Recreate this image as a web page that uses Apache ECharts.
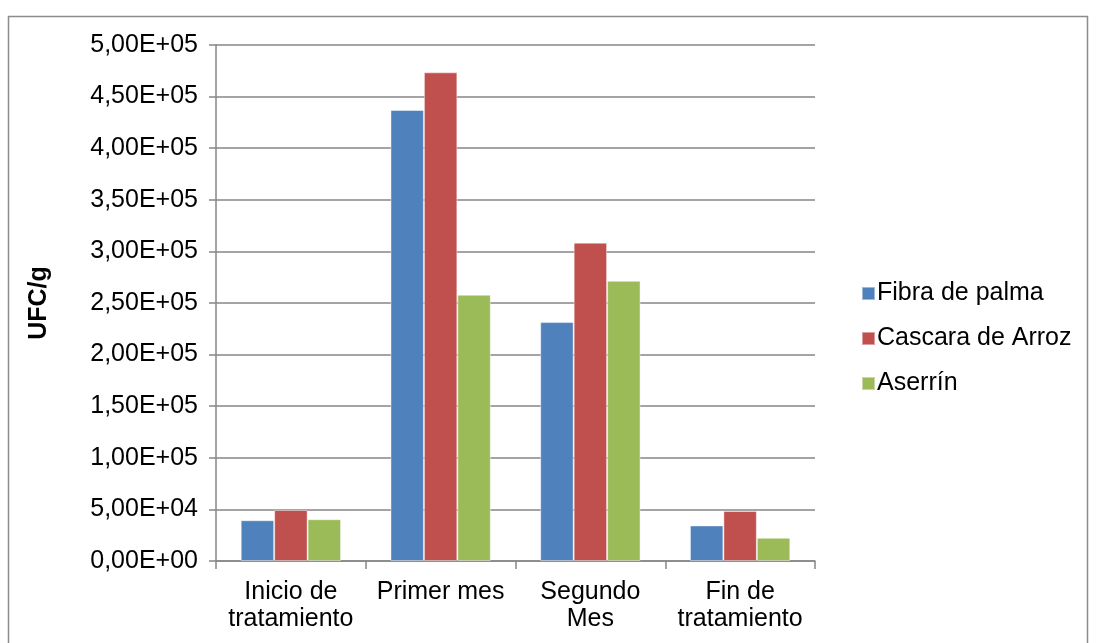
<!DOCTYPE html>
<html>
<head>
<meta charset="utf-8">
<script src="https://cdn.jsdelivr.net/npm/echarts@6/dist/echarts.min.js"></script>
<style>
  html, body { margin: 0; padding: 0; background: #fff; }
  #chart { width: 1097px; height: 643px; }
</style>
</head>
<body>
<div id="chart"></div>
<script>
// datos
const categories = ['Inicio de\ntratamiento', 'Primer mes', 'Segundo\nMes', 'Fin de\ntratamiento']
const fibraPalma = [39500, 437000, 231500, 34500]
const cascaraArroz = [49500, 473500, 308500, 48500]
const aserrin = [40500, 258000, 271500, 22500]

const font = 'Liberation Sans, Arial, sans-serif'
const gridColor = '#868686'

// 5,00E+05 style labels
function sciLabel(v) {
  let s = Number(v).toExponential(2) // 5.00e+5
  let parts = s.split('e')
  let mant = parts[0].replace('.', ',')
  let exp = parseInt(parts[1])
  let sign = exp < 0 ? '-' : '+'
  let e = Math.abs(exp).toString().padStart(2, '0')
  return mant + 'E' + sign + e
}

const chart = echarts.init(document.getElementById('chart'))
const option = {
  animation: false,
  backgroundColor: '#fff',
  textStyle: { fontFamily: font },
  graphic: [
    {
      type: 'rect',
      shape: { x: 8.5, y: 16.5, width: 1079, height: 700 },
      style: { fill: 'none', stroke: '#8c8c8c', lineWidth: 1.5 },
      silent: true
    }
  ],
  grid: { left: 216, right: 282, top: 45, bottom: 82 },
  legend: {
    orient: 'vertical',
    left: 856,
    top: 275,
    itemWidth: 13,
    itemHeight: 13,
    itemGap: 18,
    icon: 'rect',
    textStyle: { fontFamily: font, fontSize: 25, color: '#000', padding: [0, 0, 0, -3], lineHeight: 27 },
    data: ['Fibra de palma', 'Cascara de Arroz', 'Aserrín']
  },
  xAxis: {
    type: 'category',
    data: categories,
    axisLine: { lineStyle: { color: gridColor, width: 1.5 } },
    axisTick: { show: true, length: 8, lineStyle: { color: gridColor, width: 1.5 } },
    axisLabel: { color: '#000', fontSize: 25, fontFamily: font, margin: 18, lineHeight: 27, interval: 0 }
  },
  yAxis: {
    type: 'value',
    min: 0,
    max: 500000,
    interval: 50000,
    name: 'UFC/g',
    nameLocation: 'middle',
    nameGap: 164,
    nameRotate: 90,
    nameTextStyle: { fontFamily: font, fontSize: 25, fontWeight: 'bold', color: '#000' },
    axisLine: { show: true, lineStyle: { color: gridColor, width: 1.5 } },
    axisTick: { show: true, length: 7, lineStyle: { color: gridColor, width: 1.5 } },
    splitLine: { lineStyle: { color: gridColor, width: 1.5 } },
    axisLabel: { color: '#000', fontSize: 25, fontFamily: font, margin: 18, formatter: sciLabel }
  },
  series: [
    {
      name: 'Fibra de palma',
      type: 'bar',
      data: fibraPalma,
      barGap: '0%',
      barCategoryGap: '33%',
      itemStyle: { color: '#4F81BD', borderColor: 'rgba(255,255,255,0.45)', borderWidth: 1 }
    },
    {
      name: 'Cascara de Arroz',
      type: 'bar',
      data: cascaraArroz,
      itemStyle: { color: '#C0504D', borderColor: 'rgba(255,255,255,0.45)', borderWidth: 1 }
    },
    {
      name: 'Aserrín',
      type: 'bar',
      data: aserrin,
      itemStyle: { color: '#9BBB59', borderColor: 'rgba(255,255,255,0.45)', borderWidth: 1 }
    }
  ]
}
chart.setOption(option)
window.addEventListener('resize', () => { chart.resize() })
</script>
</body>
</html>
